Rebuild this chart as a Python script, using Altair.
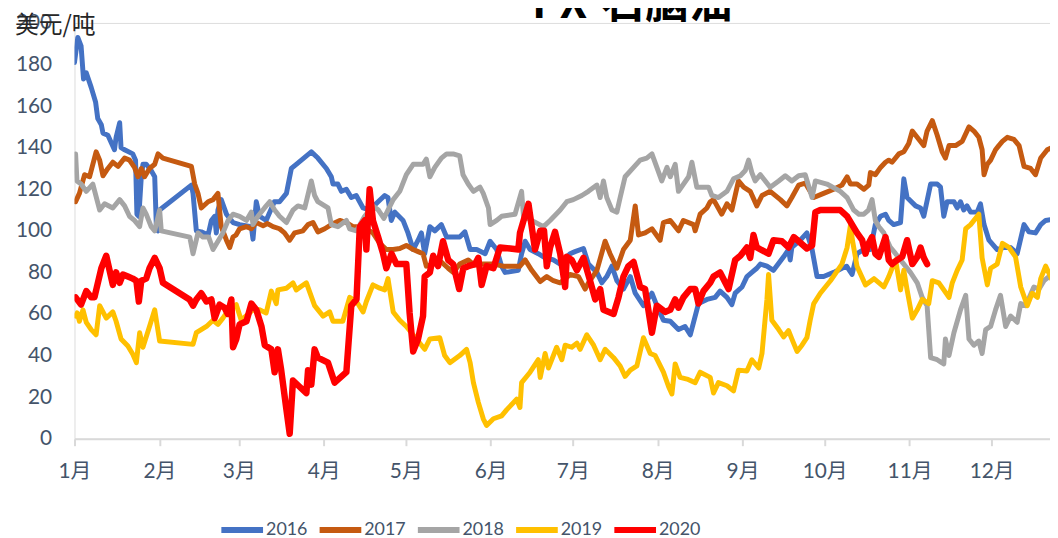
import altair as alt
import pandas as pd

years = ["2016", "2017", "2018", "2019", "2020"]
colors = ["#4472C4", "#C55A11", "#A5A5A5", "#FFC000", "#FF0000"]

# day-of-year offsets (from Jan 1) and values in USD/t
d2016 = [0, 1.2, 2.4, 3.3, 4.3, 6.1, 7.7, 8.5, 9.8, 10.4, 12.2, 14.6, 15.2, 16.5, 17, 18.3, 21.3, 22.3, 22.8, 23.5,
         24.4, 25, 26.2, 28, 29.3, 29.9, 30.5, 31.1, 42.7, 43.3, 44.5, 46.3, 48.8, 50, 51.2, 51.8, 52.4, 53.6, 55.5, 57.9,
         60.3, 64.6, 65.2, 66.4, 67.6, 70, 73, 74.9, 77.4, 79.2, 81, 86.5, 88.9, 92, 93.8, 94.4, 96.2, 97.5, 99.3, 101.1,
         102.9, 105.4, 107.8, 110.9, 113.3, 114.5, 115.7, 117, 120, 121.8, 123.7, 125.5, 126.7, 127.9, 129.8, 131.6, 134, 135.9, 140.7, 142.6,
         144.5, 146.9, 150, 151.8, 154.2, 156, 157.3, 162.1, 163.3, 164.6, 166.4, 169.4, 171.3, 174.9, 177.4, 181, 182.8, 185.9, 187.7, 190.8,
         192.6, 194.4, 196.3, 198.1, 200.5, 203, 204.8, 207.8, 210.9, 212.7, 215.1, 217.6, 220.6, 223, 224.9, 226.1, 227.3, 227.9, 231, 234,
         235.8, 238.3, 240.1, 241.3, 243.8, 245.6, 247.4, 249.2, 250.5, 252.9, 255.3, 259, 260.8, 261.4, 262, 265.1, 267.5, 269.4, 271.2, 273.6,
         277.3, 280.3, 282, 284, 285.8, 288.2, 290.7, 292.5, 294.4, 296.2, 297.4, 299.2, 301.7, 302.9, 304.1, 307.2, 309, 310.2, 312.7, 315.1,
         316.3, 317.5, 318.7, 321.2, 322.4, 323.6, 324.8, 326, 327.3, 329.7, 330.9, 332.2, 334, 337, 339.5, 341.9, 344.3, 346.8, 348.6, 351,
         352.9, 354.7, 359, 365]
v2016 = [181, 193, 189, 173, 176, 169, 162, 154, 151, 147, 146, 139, 145, 152, 140, 139, 137, 134, 108, 107,
         126, 132, 132, 129, 126, 102, 100, 110, 122, 118, 100, 99.5, 98, 105, 107, 99, 110, 115, 108, 104,
         103, 102, 96, 114, 107, 105, 114, 114, 118, 130, 132, 138, 135, 130, 126, 122.5, 122.5, 119, 120, 116,
         117, 111, 110, 114, 117, 116, 105, 109, 105, 99, 91, 95.5, 99, 89, 102, 100, 103, 97, 97, 99.5,
         91, 91, 89, 95, 91, 83, 80, 81, 89, 95, 91, 89, 87.5, 86, 84, 89, 90, 91.5, 84, 80,
         75, 78, 83, 76, 72, 78, 70, 64, 70, 64, 57, 56.5, 52.5, 54, 50, 56, 62, 65, 67, 68,
         71, 68, 64.5, 70, 73, 78, 80, 82, 84, 83, 81, 87.5, 91, 86, 92, 95.5, 99, 91, 78, 78,
         80, 82, 83, 79, 89, 91, 91, 103, 107, 108, 105, 103, 104, 125, 116, 112, 111, 107, 122.5, 122.5,
         121, 107, 114, 114, 111, 114, 110, 112, 109, 109, 113, 103, 95.5, 91, 92, 92, 89, 103, 99.5, 99,
         103, 105, 106, 107]

d2017 = [0.4, 1.8, 3.7, 5.5, 7.9, 9.2, 10.4, 12.2, 14, 15.9, 18.3, 20.1, 21.9, 23.2, 24.4, 25.6, 27.4, 29.3, 30.5, 32.3,
         42.7, 43.9, 45.1, 46.3, 48.8, 50.6, 52.4, 53.6, 55.5, 56.7, 57.9, 59, 60.3, 62.8, 64.6, 66.4, 68.9, 70.5, 72.5, 74.9,
         76.7, 78.6, 80.4, 83.4, 85.3, 87.1, 88.9, 91.4, 93.8, 96.9, 99.3, 101.7, 104.2, 106.6, 109, 111.5, 113.9, 116.4, 118.8, 121.2,
         123.7, 125.5, 127.3, 128.5, 131, 134, 136.5, 138.3, 140.7, 143.8, 146, 148.1, 153, 156.6, 162.7, 164.6, 167, 170.1, 172.5, 174.9,
         177.4, 181, 184.1, 186.5, 187.7, 190.8, 193.8, 195.6, 198.1, 200.5, 203, 204.8, 206, 208.4, 210.9, 213.9, 215.1, 217.6, 220.6, 222.4,
         226.1, 226.7, 228.5, 231, 232.2, 233.4, 236.4, 238.3, 240.1, 242.5, 244.4, 246.8, 249.2, 251.1, 254.1, 257.8, 260.2, 262, 264.5, 266.9,
         270, 273.6, 277.3, 280.3, 282.2, 283.4, 285.8, 288.3, 290.1, 290.7, 292.5, 294.4, 296.2, 297.4, 298.6, 301.1, 302.9, 304.7, 306, 307.2,
         309, 310.2, 311.4, 313.3, 315.1, 316.9, 318.1, 319.4, 321.8, 324.2, 326.7, 328.5, 330.3, 331.5, 332.2, 333.4, 334.6, 336.4, 337.6, 338.9,
         340.7, 343.1, 345, 346.8, 349.2, 351, 352.9, 355.3, 358.4, 365]
v2017 = [114, 118, 127, 126, 138, 134, 126.5, 130, 133, 131, 135, 134, 130.5, 126, 130, 126, 130, 132, 137, 135,
         131, 122.5, 118, 111, 114, 115, 118, 102, 95.5, 92, 97, 98, 101, 102, 101, 104, 102.5, 103.5, 102, 101,
         99, 95.5, 99, 100, 103, 104, 99.5, 101, 103, 105, 104, 102, 102, 101, 99, 94, 91, 91, 91.5, 93,
         91, 90, 89, 83, 84, 85, 82, 80, 84, 86, 83.5, 84, 84, 83, 83, 86, 81, 75.6, 78, 76,
         75, 79, 78, 72, 75, 81, 95, 89, 82, 91, 95.5, 112, 98, 99, 101, 95.5, 104, 105, 100, 105,
         103, 100, 108, 111, 114, 115, 108, 113, 110, 124, 121, 119, 112, 117, 119, 115, 112, 116, 122, 123,
         116, 118, 120, 122, 126, 122.5, 122.5, 120, 122, 128, 127, 130.5, 133, 134, 133, 137, 138, 142, 148, 146,
         143, 141, 148, 153, 146, 138, 135, 141, 141, 143, 150, 148, 145, 139, 127, 132, 134, 139, 141, 143,
         145, 144, 141, 131, 130, 127, 135, 139, 141, 143]

d2018 = [0.4, 0.9, 2.4, 4.3, 6.7, 9.2, 11, 14, 16.5, 18.3, 20.1, 21.9, 23.8, 25, 26.2, 28, 29.3, 31.1, 31.7, 42.1,
         43.3, 45.1, 46.9, 49, 50.6, 52.4, 54.2, 56.1, 57.9, 60.3, 62.8, 64.6, 65.2, 67, 69.4, 71.3, 73.1, 74.9, 77.4, 79.8,
         81.6, 84.1, 86.5, 87.7, 88.9, 92.6, 93.8, 96.2, 99.3, 100.5, 103, 106, 109, 111, 113, 116.4, 118.8, 121.2, 123.7, 127.3,
         128.5, 129.8, 131.6, 134, 135.9, 138.3, 140.7, 141.9, 143.8, 145.7, 148.1, 149.3, 151.2, 151.8, 154.2, 156, 160.9, 163.3, 164, 171.3,
         173.7, 177.4, 179.8, 182.2, 185.3, 187.7, 190.8, 192, 193.2, 194.4, 196.3, 198.1, 199.3, 201.1, 204.2, 206.6, 209, 210.9, 212.7, 214.5,
         216.4, 217.6, 219.4, 220.6, 224.3, 225.5, 227.3, 231.6, 232.8, 235.2, 238.3, 240.7, 243.2, 245, 246.2, 247.4, 248.6, 250.5, 254.1, 257.2,
         259.6, 262, 264.5, 266.9, 269.4, 270.6, 274.8, 279.7, 282.2, 284.6, 286.5, 288.3, 290, 291.3, 292.5, 293.8, 295.6, 298, 299.9, 301.7,
         305.3, 307.8, 309.6, 311.4, 312.7, 315.1, 316.3, 317.5, 318.1, 319.4, 321.2, 323.6, 325.5, 326.7, 328.5, 330.3, 331.5, 332.8, 334.6, 336.4,
         338.2, 340.1, 341.9, 344.3, 345.6, 347.4, 350.4, 352.3, 354.1, 357.7, 359.5, 362, 365]
v2018 = [137, 124, 122.5, 119, 122.5, 110, 113, 111, 115, 112, 107, 105, 102, 111, 108, 102, 100, 110, 100, 97,
         89, 99, 97, 97, 91, 95, 99, 105, 108, 107, 105, 109, 103, 107, 111, 114, 110, 107, 104, 110,
         112, 111, 124, 117, 114, 111, 103, 102, 105, 101, 100, 107, 112, 110, 106, 115, 119, 127, 132, 132,
         134.5, 126, 130.5, 135, 137, 137, 136, 127, 122.5, 119, 121, 118, 111, 103, 105, 107, 108, 119, 107, 102,
         105, 110, 114, 115, 117, 119, 122, 116, 124, 116, 110, 109, 116, 126, 130.5, 134, 135, 137, 130.5, 124,
         130.5, 126, 132, 119, 126, 133, 121, 121, 117, 116, 119, 125, 126.5, 129, 134, 128, 124, 127, 121, 124,
         126.5, 124, 126.5, 127, 116, 124, 122.5, 119, 116, 110, 108, 108, 110, 115, 105, 102, 99, 92, 89, 86,
         80, 75, 68, 64, 39, 38, 37, 36, 48, 40, 51, 62, 69, 48, 45, 47, 41, 52.5, 54, 62,
         69, 54, 59, 56, 65, 64, 73, 72, 76, 80, 82, 70, 72]

d2019 = [0.4, 1, 1.8, 3.1, 4.3, 6.1, 7.9, 9.2, 11.6, 14, 15.2, 17, 19.5, 21.3, 22.6, 23.8, 25, 27.4, 29.3, 31.1,
         43.3, 44.5, 48.2, 50.6, 52.4, 54.2, 55.5, 56.7, 59.1, 60.9, 65.2, 67.6, 70, 71.9, 73.7, 74.3, 77.4, 79.8, 81, 84.7,
         87.7, 90.8, 93.2, 94.4, 98, 100.5, 103, 105.4, 106.6, 109, 111.5, 113.3, 114.5, 116.4, 118.8, 121.2, 124.9, 127.9, 129.8, 133.4,
         135.2, 137.1, 140.7, 143.2, 144.5, 145.7, 147.5, 149.3, 150.5, 153, 156, 157.9, 161.5, 162.7, 163.3, 166.4, 169.4, 170.1, 171.9, 173.1,
         176.1, 178, 179.2, 181.6, 183.5, 184.7, 187.1, 189.6, 192, 193.8, 196.9, 199.3, 201.1, 203, 205.4, 207.8, 210.3, 212.1, 215.1, 217,
         218.2, 219.4, 221.2, 223.7, 226.7, 228.5, 232.2, 233.4, 235.2, 238.3, 240.7, 242.5, 245.6, 247.4, 249.9, 251.1, 252.9, 253.5, 254.7, 257.2,
         259, 260.8, 262, 263.9, 265.7, 267.5, 268.7, 270, 272.4, 276.1, 280.3, 282.2, 283.4, 284.2, 285.8, 288.9, 292, 295.6, 297.4, 298.6,
         299.9, 301.7, 302.9, 304.1, 306, 307.8, 309.6, 312, 313.3, 315.7, 317.5, 319.4, 320.6, 322.4, 324.2, 325.5, 327.3, 330.3, 331.5, 333.4,
         334.6, 337, 338.9, 341.3, 343.7, 345.6, 348, 349.8, 351.7, 352.9, 354.7, 356.5, 359, 362, 365]
v2019 = [59, 60.5, 56.5, 62, 56, 52.5, 50, 64, 58, 61, 56.5, 48, 44.6, 40.6, 36.6, 51, 44, 54, 62, 47,
         45.4, 51, 54, 57, 55, 58, 60.5, 62, 64.5, 57, 62, 62, 60.5, 71, 65, 71.6, 72.4, 75, 71.6, 75,
         64, 59, 61, 56.5, 56.5, 68, 66, 61, 66, 74, 72.4, 71.6, 77, 61, 57, 54, 48, 43, 48, 48.6,
         40, 36.6, 40, 43, 36.6, 27, 17.5, 9.6, 6.4, 9.6, 11, 14, 19, 15, 27, 32, 38, 29.5, 41, 34,
         44, 38, 45, 44, 46, 43, 50, 45, 38, 43, 39, 35, 30, 33, 35, 48.6, 41, 40, 32, 25,
         21.5, 36, 29.5, 28.7, 27, 32, 29.5, 22, 27, 25.5, 23, 33, 32.6, 38, 34, 41, 67, 79, 57, 52.5,
         49, 52, 48, 42, 45, 48.6, 57, 65, 70, 76, 84, 92, 102.6, 95, 83, 74, 77, 73, 78, 82,
         86, 71.6, 81, 71.6, 58, 62, 67, 65, 76, 75, 71.6, 68, 75, 81, 86, 101, 103, 108, 87, 74,
         82, 84, 94, 92, 87.5, 73, 64, 70, 68, 77, 83, 78, 71, 68, 66]

d2020 = [0.4, 2.4, 4.3, 6.1, 7.3, 9.8, 11.6, 12.8, 14, 15.2, 16.5, 17.7, 19.5, 21.3, 22.6, 23.5, 24.4, 26.2, 27.4, 29.3,
         31.1, 32.3, 42, 43.3, 44.5, 46.3, 48.2, 50, 51.2, 53, 54.8, 56, 57.3, 57.9, 59.1, 60.3, 62.8, 64.6, 66.4, 68.3,
         69.5, 71.9, 73.1, 74.3, 75.5, 77.4, 78.6, 79.8, 82.2, 84.7, 85.3, 86.5, 87.7, 88.9, 92.6, 95, 99.3, 101.1, 103, 104.2,
         106, 106.6, 107.8, 109, 110.9, 112.7, 113.9, 115.8, 117.6, 121.2, 122.4, 123.7, 125.5, 127.3, 127.9, 129.8, 131, 132.8, 134.6, 136.5,
         138.3, 140.5, 142, 143.8, 146.3, 147.5, 148.7, 150.5, 153, 155.4, 159.1, 162.1, 162.7, 165.8, 168.2, 170.1, 171.5, 172.5, 173.7, 175.5,
         177.4, 179.2, 179.8, 181.6, 183.5, 185.9, 188.3, 190.2, 192, 193.2, 196.9, 198.7, 200.5, 202.3, 204.2, 206.6, 208.4, 210.9, 212.7, 215.7,
         217.6, 219.4, 220.6, 222.4, 224.9, 226.7, 227.9, 229.7, 232.2, 233.4, 235.8, 238.9, 241.3, 243.2, 245.6, 246.8, 248, 249.2, 253.5, 255.3,
         258.4, 260.8, 262.7, 264.5, 267.5, 269.4, 270.6, 272.4, 279.7, 282.2, 284, 285.8, 287.7, 288.9, 290.1, 291.3, 292.5, 293.8, 296.2, 297.4,
         298.6, 300.5, 302.3, 304.1, 306, 307.8, 309, 310.2, 311.4]
v2020 = [68, 64.5, 71, 68, 68, 82, 88, 81, 74, 80, 75, 79, 78, 77, 76, 66, 76, 77, 82, 87,
         82, 75, 67, 64, 67, 70, 66, 67, 58, 64.5, 63, 60, 67, 44, 48, 55, 56.5, 65, 62, 54,
         45, 43, 32, 43, 33, 14, 2.4, 28, 25, 22, 33, 26, 43, 39, 36.6, 27, 32, 64, 67, 102,
         105, 91, 120, 105, 97, 89, 82, 89, 84, 84, 60.5, 42, 48, 59, 78, 80, 88, 83, 95, 86,
         84, 72, 82, 83, 84, 87, 74, 83, 82, 92, 91.5, 91, 99, 113, 91, 100, 100, 83, 92, 99.5,
         89, 73, 87.5, 86, 81, 87, 76, 67, 72, 62, 60, 68, 78, 83, 85, 73, 72, 51, 64, 61,
         62, 67, 63, 68, 72, 72, 65, 71, 75, 78, 80, 72, 86, 88, 92, 87, 98, 92, 89, 95.5,
         95, 92, 97, 95, 91.5, 93, 109, 110, 110, 107, 103, 99, 95.5, 89, 94, 97, 89, 87.5, 97, 86,
         84, 86, 87.5, 95.5, 84, 87.5, 92, 87, 84]

series_days = [d2016, d2017, d2018, d2019, d2020]
series_vals = [v2016, v2017, v2018, v2019, v2020]
y_ticks = list(range(0, 201, 20))

base = pd.Timestamp("2020-01-01")
frames = []
for yr, dd, vv in zip(years, series_days, series_vals):
    frames.append(pd.DataFrame({
        "date": [base + pd.Timedelta(days=float(d)) for d in dd],
        "value": vv,
        "year": yr,
    }))
df = pd.concat(frames, ignore_index=True)
df["date"] = df["date"].dt.strftime("%Y-%m-%dT%H:%M:%S")

xscale = alt.Scale(
    domain=[alt.DateTime(year=2020, month=1, date=1), alt.DateTime(year=2020, month=12, date=22, hours=7)],
    nice=False,
)

lines = alt.Chart(df).mark_line(clip=True, strokeJoin="round", strokeCap="round").encode(
    x=alt.X("date:T", scale=xscale,
            axis=alt.Axis(title=None, format="%-m月", tickCount={"interval": "month", "step": 1},
                          labelFlush=False, labelOverlap=False, labelAngle=0, grid=False,
                          domainColor="#D9D9D9", domainWidth=2, tickColor="#D9D9D9", tickWidth=2,
                          tickSize=7, labelPadding=15, labelFontSize=21, labelColor="#44546A",
                          labelFont="Lato, 'Noto Sans CJK SC'")),
    y=alt.Y("value:Q", scale=alt.Scale(domain=[0, 200], nice=False),
            axis=alt.Axis(title=None, values=y_ticks, domain=False, ticks=False, tickSize=0, grid=False,
                          labelPadding=23, labelFontSize=21, labelColor="#44546A", labelFont="Lato",
                          labelOverlap=False)),
    color=alt.Color("year:N", scale=alt.Scale(domain=years, range=colors),
                    legend=alt.Legend(title=None, orient="none", legendX=145, legendY=487,
                                      direction="horizontal", columns=5, symbolType="stroke",
                                      symbolSize=1764, symbolStrokeWidth=6, labelFontSize=18,
                                      labelFont="Lato", labelColor="#44546A", labelOffset=0,
                                      columnPadding=0)),
    strokeWidth=alt.condition("datum.year == '2020'", alt.value(6.5), alt.value(5)),
)

title_df = pd.DataFrame({"t": ["PX-石脑油"]})
title = alt.Chart(title_df).mark_text(font="Noto Sans CJK SC", fontSize=44, fontWeight="bold",
                                      color="black", align="center", baseline="alphabetic").encode(
    x=alt.value(562), y=alt.value(-5), text="t:N")

unit_df = pd.DataFrame({"t": ["美元/吨"]})
unit = alt.Chart(unit_df).mark_text(font="Noto Sans CJK SC", fontSize=24, color="#262626",
                                    align="left", baseline="alphabetic").encode(
    x=alt.value(-60), y=alt.value(10), text="t:N")

chart = alt.layer(lines, title, unit).properties(
    width=983, height=419,
    padding={"left": 67, "top": 13, "right": 0, "bottom": 100},
    autosize=alt.AutoSizeParams(type="none"),
).configure_view(stroke=None).configure(background="white")

chart.save("out.html", embed_options={"renderer": "svg", "actions": False})
